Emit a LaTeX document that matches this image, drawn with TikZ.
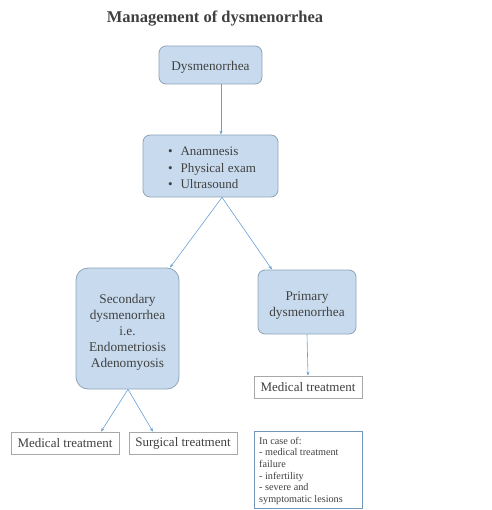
\documentclass[tikz,border=0pt]{standalone}
\usepackage{fontspec}
\setmainfont{Liberation Serif}
\usetikzlibrary{arrows.meta}
\definecolor{boxfill}{HTML}{C8DBEE}
\definecolor{boxline}{HTML}{8FA3B6}
\definecolor{arr}{HTML}{6A9FD4}
\definecolor{txt}{HTML}{404040}
\definecolor{plainline}{HTML}{A8A8A8}
\begin{document}
\begin{tikzpicture}[x=1pt,y=-1pt,
  bluebox/.style={draw=boxline,line width=0.8pt,fill=boxfill,rounded corners=7pt},
  boxtext/.style={text=txt,align=center,font=\fontsize{13.3}{16}\selectfont,inner sep=0pt},
  plainbox/.style={draw=plainline,line width=0.7pt,fill=white,text=txt,font=\fontsize{13}{14}\selectfont,inner sep=0pt},
  conn/.style={draw=arr,line width=0.6pt,-{Stealth[length=4pt,width=3pt]}}]
\useasboundingbox (0,0) rectangle (491,510);
\node[font=\bfseries\fontsize{16.5}{18}\selectfont,text=txt] (title) at (215,18.5) {Management of dysmenorrhea};
\node[bluebox,minimum width=103pt,minimum height=38pt] (dys) at (210.5,65) {};
\node[boxtext] (dyst) at (210.5,67) {Dysmenorrhea};
\node[bluebox,minimum width=135pt,minimum height=62pt] (ana) at (210.5,166) {};
\node[text=txt,align=left,font=\fontsize{13}{16.5}\selectfont,inner sep=0pt] (anatext) at (212,168) {\textbullet\hspace{8pt}Anamnesis\\\textbullet\hspace{8pt}Physical exam\\\textbullet\hspace{8pt}Ultrasound};
\node[bluebox,minimum width=103pt,minimum height=121pt,rounded corners=12pt] (sec) at (127.5,328.5) {};
\node[boxtext] (sect) at (127.5,332) {Secondary\\dysmenorrhea\\i.e.\\Endometriosis\\Adenomyosis};
\node[bluebox,minimum width=98pt,minimum height=64pt] (pri) at (307,302) {};
\node[boxtext] (prit) at (307,305.5) {Primary\\dysmenorrhea};
\node[plainbox,minimum width=108pt,minimum height=22pt] (medr) at (308,387) {Medical treatment};
\node[plainbox,minimum width=108pt,minimum height=22pt] (medl) at (65,443) {Medical treatment};
\node[plainbox,minimum width=108pt,minimum height=22pt] (surg) at (183,443) {Surgical treatment};
\node[draw=arr!70!gray,line width=0.7pt,fill=white,minimum width=108pt,minimum height=77pt,inner sep=0pt] (case) at (308,469.5) {};
\node[anchor=north west,text=txt,align=left,font=\fontsize{10.2}{11.6}\selectfont,inner sep=0pt] (casetext) at (259,437) {In case of:\\- medical treatment\\failure\\- infertility\\- severe and\\symptomatic lesions};
\draw[conn] (dys.south -| 221,0) -- (ana.north -| 221,0);
\draw[conn] (ana.south -| 222,0) -- (sec.north -| 170,0);
\draw[conn] (ana.south -| 222,0) -- (pri.north -| 272,0);
\draw[conn] (pri.south) -- (medr.north);
\draw[conn] (sec.south -| 128,0) -- (medl.north -| 101,0);
\draw[conn] (sec.south -| 128,0) -- (surg.north -| 153,0);
\end{tikzpicture}
\end{document}
